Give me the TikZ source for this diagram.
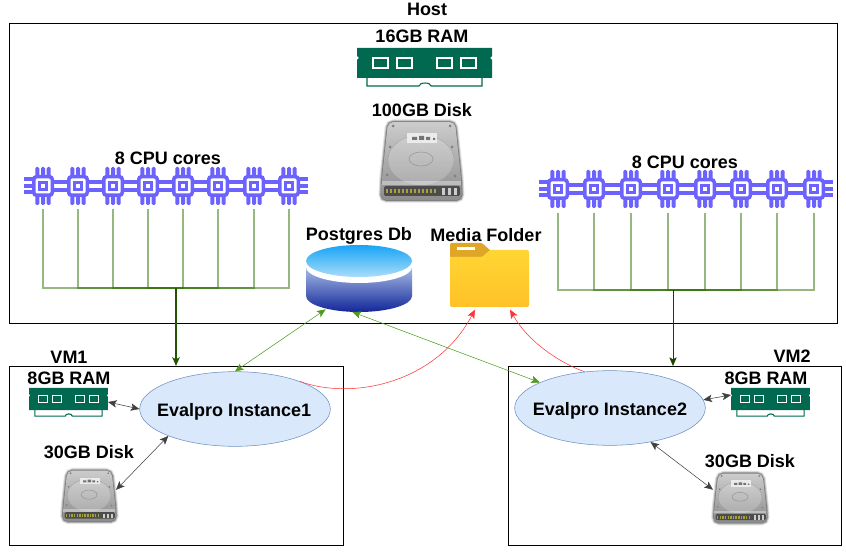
\documentclass[tikz,border=0pt]{standalone}
\usepackage{fontspec}
\setmainfont{Liberation Sans}
\usetikzlibrary{shapes.geometric, arrows.meta}

\definecolor{ramgreen}{HTML}{00694F}
\definecolor{chipblue}{HTML}{6C63FF}
\definecolor{busgreen}{HTML}{2D7000}
\definecolor{linkgreen}{HTML}{4D9A1F}
\definecolor{linkred}{HTML}{FF3333}
\definecolor{vmfill}{HTML}{DAE8FC}
\definecolor{vmline}{HTML}{6C8EBF}
\definecolor{dbtop}{HTML}{18A4F6}
\definecolor{dbtoplow}{HTML}{A9DDF9}
\definecolor{dbside}{HTML}{A4BAE4}
\definecolor{dbsidelow}{HTML}{12259A}
\definecolor{foldertab}{HTML}{E0A628}
\definecolor{folderhigh}{HTML}{FFD633}
\definecolor{folderlow}{HTML}{FFC127}

\tikzset{
    lbl/.style={font=\fontsize{13.5}{16}\selectfont\bfseries, inner sep=0pt},
    boxframe/.style={draw=black, thick, fill=none},
    instance/.style={ellipse, draw=vmline, fill=vmfill, minimum width=143pt, minimum height=56pt, inner sep=0pt},
    iconbox/.style={inner sep=0pt, outer sep=0pt},
    ramlink/.style={<->, draw=black!75, thin},
    buswire/.style={busgreen, opacity=0.5, line width=1pt},
    pics/ramicon/.style={code={
        \draw[ramgreen, fill=white, line width=0.8pt] (10,28) -- (10,38) -- (62,38) arc[start angle=180, end angle=360, x radius=6, y radius=3] -- (125,38) -- (125,28);
        \fill[ramgreen] (0,0) -- (135,0) -- (135,8) -- (133,10) -- (135,12) -- (135,30) -- (0,30) -- (0,12) -- (2,10) -- (0,8) -- cycle;
        \foreach \x in {16,40,80,104} {
            \draw[white, line width=0.9pt, fill=ramgreen] (\x,10) rectangle ++(15,10);
        }
    }},
    pics/diskicon/.style={code={
        \foreach \w/\o in {4/0.12, 2.5/0.2, 1.2/0.3} {
            \draw[black, line width=\w pt, opacity=\o, rounded corners=4pt] (8,4) -- (75,4) -- (81,60) -- (82,82) -- (1,82) -- (2,60) -- cycle;
        }
        \shade[top color=black!20, bottom color=black!45, rounded corners=4pt] (8,4) -- (75,4) -- (81,60) -- (82,82) -- (1,82) -- (2,60) -- cycle;
        \draw[black!40, opacity=0.8] (41,42) ellipse[x radius=33, y radius=25];
        \fill[white, opacity=0.2] (41,42) ellipse[x radius=33, y radius=25];
        \draw[black!45, opacity=0.8] (41,41) ellipse[x radius=12, y radius=7];
        \fill[white!92!black] (27,15) rectangle (57,25);
        \fill[black!55] (32,19) rectangle (37,22) (39,18) rectangle (44,22) (46,19) rectangle (50,22) (53,20) rectangle (55,22);
        \foreach \x/\y in {13/8, 70/8, 10/29, 72/29, 7/57, 75/58} {
            \fill[black!50] (\x,\y) circle[radius=1.5];
        }
        \fill[black!70, rounded corners=1pt] (4,68) rectangle (80,78);
        \fill[white, opacity=0.35] (2,63) rectangle (81,67);
        \foreach \x in {6,10,...,54} {
            \fill[yellow!60!black] (\x,71) rectangle ++(2.2,4.5);
        }
        \foreach \x in {62,68,74} {
            \fill[black!20] (\x,70) rectangle ++(2.8,7);
        }
    }},
    pics/chipicon/.style={code={
        \foreach \o in {-5.7,0,5.7} {
            \fill[chipblue, rounded corners=1pt] (\o-2,-19) rectangle (\o+2,19);
        }
        \fill[chipblue, rounded corners=3pt] (-11,-11) rectangle (11,11);
        \fill[white, rounded corners=1pt] (-7.5,-7.5) rectangle (7.5,7.5);
        \fill[chipblue] (-5,-5) rectangle (5,5);
        \fill[white] (-1.8,-1.8) rectangle (1.8,1.8);
    }},
    pics/chipend/.style={code={
        \foreach \o in {-6.5,0,6.5} {
            \fill[chipblue] (-19,\o-2) rectangle (-10,\o+2);
        }
    }},
    pics/chipgap/.style={code={
        \foreach \o in {-3.8,3.8} {
            \fill[chipblue] (-8,\o-2) rectangle (8,\o+2);
        }
    }},
}

\begin{document}
\begin{tikzpicture}[x=0.75pt, y=-0.75pt, >={Stealth[length=6.5pt, width=5.5pt, inset=1.5pt]}]
    \useasboundingbox (0,0) rectangle (846,559);

    % Host and VM frames
    \node[boxframe, minimum width=621pt, minimum height=225pt, inner sep=0pt, anchor=north west] (hostbox) at (9,23) {};
    \node[boxframe, minimum width=250.5pt, minimum height=134.25pt, inner sep=0pt, anchor=north west] (vmbox1) at (9,366) {};
    \node[boxframe, minimum width=249.5pt, minimum height=134.25pt, inner sep=0pt, anchor=north west] (vmbox2) at (508,366) {};

    % Labels
    \foreach \x/\y/\txt in {427/9/Host, 422/36/16GB RAM, 422/110/100GB Disk, 168/158/8 CPU cores, 685/162/8 CPU cores,
        359/236/Postgres Db, 486/235/Media Folder, 69/357/VM1, 792/356/VM2, 69/378/8GB RAM, 89/452/30GB Disk,
        766/378/8GB RAM, 750/461/30GB Disk} {
        \node[lbl] at (\x,\y) {\txt};
    }

    % CPU rows
    \coordinate (trunkL) at (176,288);
    \coordinate (trunkR) at (673,290);
    \foreach \x in {60.5,95.5,130.5,165.5,200.5,236,271.5} {
        \pic at (\x,186) {chipgap};
    }
    \pic at (43,186) {chipend};
    \pic[xscale=-1] at (289,186) {chipend};
    \foreach \i/\x in {1/43, 2/78, 3/113, 4/148, 5/183, 6/218, 7/254, 8/289} {
        \node[iconbox, minimum width=30pt, minimum height=36pt] (cpuL\i) at (\x,185) {};
        \pic at (\x,186) {chipicon};
        \draw[buswire] (cpuL\i.south) |- (trunkL);
    }
    \foreach \x in {576,612.5,649.5,686.5,723,759,795.5} {
        \pic at (\x,189) {chipgap};
    }
    \pic at (558,189) {chipend};
    \pic[xscale=-1] at (814,189) {chipend};
    \foreach \i/\x in {1/558, 2/594, 3/631, 4/668, 5/705, 6/741, 7/777, 8/814} {
        \node[iconbox, minimum width=30pt, minimum height=36pt] (cpuR\i) at (\x,189) {};
        \pic at (\x,189) {chipicon};
        \draw[buswire] (cpuR\i.south) |- (trunkR);
    }

    % Host RAM, disk, database, folder
    \node[iconbox, minimum width=101.25pt, minimum height=29pt, anchor=north west] (ramhost) at (357,48) {};
    \pic at (ramhost.north west) {ramicon};
    \node[iconbox, minimum width=61.5pt, minimum height=63pt, anchor=north west] (diskhost) at (380,118) {};
    \pic at (diskhost.north west) {diskicon};

    % Database
    \node[iconbox, minimum width=79.5pt, minimum height=50.25pt, anchor=north] (pgdb) at (359,245) {};
    \shade[top color=dbside, bottom color=dbsidelow, shading angle=0]
        (306,268) -- (306,296) arc[start angle=180, end angle=0, x radius=53, y radius=16] -- (412,268) -- cycle;
    \fill[white] (359,267) ellipse[x radius=53, y radius=16];
    \shade[top color=dbtop, bottom color=dbtoplow] (359,261) ellipse[x radius=53, y radius=16];

    % Media folder
    \node[iconbox, minimum width=59.25pt, minimum height=48pt, anchor=north west] (mediafolder) at (450,243) {};
    \fill[foldertab, rounded corners=1pt] (450,258) -- (450,243) -- (482,243) -- (491,251) -- (491,258) -- cycle;
    \fill[white] (457,247) rectangle (475,250);
    \shade[top color=folderhigh, bottom color=folderlow, rounded corners=1pt] (450,257) -- (482,257) -- (490,250) -- (529,250) -- (529,307) -- (450,307) -- cycle;

    % Evalpro instances
    \node[instance] (evalpro1) at (235,409) {};
    \node[lbl, yshift=-2.2pt, xshift=-0.6pt] at (evalpro1) {Evalpro Instance1};
    \node[instance] (evalpro2) at (610,408) {};
    \node[lbl, yshift=-2.2pt] at (evalpro2) {Evalpro Instance2};

    % VM RAM and disks
    \node[iconbox, minimum width=59.25pt, minimum height=21pt, anchor=north west] (ramvm1) at (29,388) {};
    \pic[xscale=0.585, yscale=0.74] at (ramvm1.north west) {ramicon};
    \node[iconbox, minimum width=40.5pt, minimum height=40pt, anchor=north west] (diskvm1) at (62,468) {};
    \pic[xscale=0.66, yscale=0.65] at (diskvm1.north west) {diskicon};
    \node[iconbox, minimum width=59.25pt, minimum height=21pt, anchor=north west] (ramvm2) at (731,388) {};
    \pic[xscale=0.585, yscale=0.74] at (ramvm2.north west) {ramicon};
    \node[iconbox, minimum width=40.5pt, minimum height=39pt, anchor=north west] (diskvm2) at (713,471) {};
    \pic[xscale=0.66, yscale=0.63] at (diskvm2.north west) {diskicon};

    % Trunks from the CPU rows
    \draw[->, busgreen!75!black, line width=1pt] (trunkL) -- (trunkL |- vmbox1.north);
    \draw[->, busgreen!60!black, thin] (trunkR) -- (trunkR |- vmbox2.north);

    % Links to the database
    \draw[<->, linkgreen, thin] (evalpro1.90) -- ([xshift=-25pt, yshift=2pt]pgdb.south);
    \draw[<->, linkgreen, thin] ([xshift=-5pt]pgdb.south) -- (evalpro2.160);

    % Links to the media folder
    \draw[->, linkred, thin] (evalpro1.23) .. controls (350,400) and (435,385) .. ([xshift=-10.9pt, yshift=-2pt]mediafolder.south);
    \draw[->, linkred, thin] (evalpro2.125) .. controls (565,365) and (530,345) .. ([xshift=15.4pt, yshift=-2pt]mediafolder.south);

    % Links inside the VMs
    \draw[ramlink] (ramvm1.east) -- (evalpro1.west);
    \draw[ramlink] (diskvm1.10) -- (evalpro1.202);
    \draw[ramlink] (evalpro2.5) -- (ramvm2.170);
    \draw[ramlink] (evalpro2.-40) -- (diskvm2.165);
\end{tikzpicture}
\end{document}
